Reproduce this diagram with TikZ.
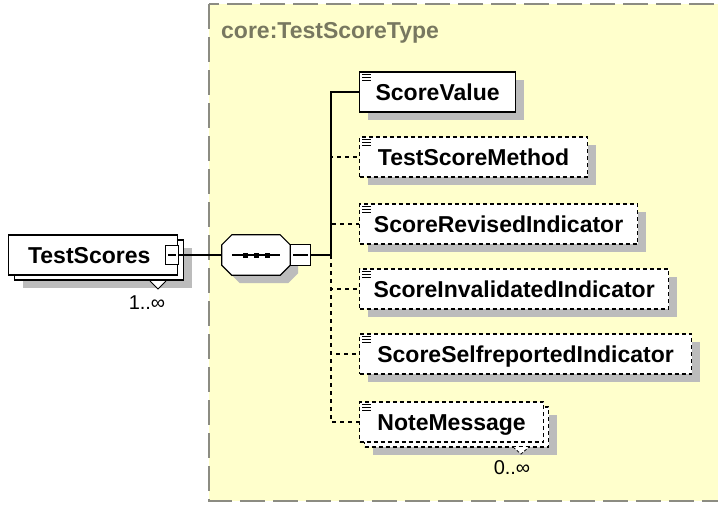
\documentclass[tikz,border=0pt]{standalone}
\usepackage{fontspec}
\setmainfont{Liberation Sans}
\usetikzlibrary{positioning, calc, shadows}
\definecolor{typefill}{RGB}{255,255,204}
\definecolor{typeline}{RGB}{140,140,130}
\definecolor{typetext}{RGB}{120,120,96}
\definecolor{shadowgray}{RGB}{188,188,188}

\tikzset{
  shade/.style={general shadow={fill=shadowgray, shadow xshift=8pt, shadow yshift=-8pt}},
  elem/.style={draw, line width=1.2pt, fill=white, anchor=west, inner sep=0pt,
    minimum height=40pt, text height=16.5pt, text depth=0pt,
    font=\bfseries\fontsize{23}{26}\selectfont},
  optelem/.style={elem, dash pattern=on 4pt off 3pt},
  minusbox/.style={draw, line width=1.1pt, fill=white, inner sep=0pt,
    path picture={\draw[line width=1.1pt] ([xshift=2.5pt]path picture bounding box.west)
      -- ([xshift=-2.5pt]path picture bounding box.east);}},
  wire/.style={line width=1.2pt},
  optwire/.style={wire, dash pattern=on 4pt off 4pt},
  mult/.style={font=\fontsize{20}{23}\selectfont, inner sep=0pt}
}
\newcommand{\listmark}[1]{%
  \foreach \k in {0,1,2}
    \draw[line width=0.9pt] ([shift={(3pt,-3pt-\k*3pt)}]#1.north west) -- ++(9,0);}

\begin{document}
\begin{tikzpicture}[x=1pt, y=-1pt]
  \useasboundingbox (0,0) rectangle (718,504);
  \clip (0,0) rectangle (718,504);

  % complex type frame
  \draw[typeline, line width=1.3pt, fill=typefill, dash pattern=on 25pt off 8pt]
    (209,4) rectangle (740,501);
  \node[font=\bfseries\fontsize{23}{26}\selectfont, text=typetext, anchor=west, inner sep=0pt]
    (typename) at (221,33) {core:TestScoreType};

  % TestScores (repeated element)
  \node[elem, shade, minimum width=169pt] (scoresback) at (14,260) {};
  \node[elem, minimum width=169pt, text width=152pt, align=left, inner xsep=0pt] (scores) at (8,255)
    {\hspace*{11pt}TestScores};
  \node[minusbox, minimum width=13pt, minimum height=19pt] (scoresminus) at (172,255) {};
  \draw[line width=0.8pt, fill=white] (150,281) -- (158,289) -- (166,281);
  \node[mult] (scoresmult) at (147,303) {1..∞};

  % sequence
  \node[inner sep=0pt, minimum width=68pt, minimum height=40pt] (seq) at (256,255) {};
  \draw[wire, fill=white, shade]
    ([xshift=10pt]seq.north west) -- ([xshift=-10pt]seq.north east)
    -- ([yshift=-10pt]seq.north east) -- ([yshift=10pt]seq.south east)
    -- ([xshift=-10pt]seq.south east) -- ([xshift=10pt]seq.south west)
    -- ([yshift=10pt]seq.south west) -- ([yshift=-10pt]seq.north west) -- cycle;
  \draw[wire] ([xshift=10pt]seq.west) -- ([xshift=-10pt]seq.east);
  \foreach \dx in {-11,0,11}
    \fill ($(seq.center)+(\dx-2.5,-2.5)$) rectangle ++(5,5);
  \node[minusbox, minimum width=20pt, minimum height=21pt, anchor=west] (seqminus) at (seq.east) {};
  \coordinate (fork) at (331,255);
  \draw[wire] (scoresminus.east) -- (seq.west);
  \draw[wire] (seqminus.east) -- (fork);

  % children
  \node[elem, shade, minimum width=156pt] (val) at (359,92) {ScoreValue};
  \foreach \n/\y/\w/\t in {method/157/228/TestScoreMethod,
      revised/224/278/ScoreRevisedIndicator,
      invalid/289/309/ScoreInvalidatedIndicator,
      selfrep/354/332/ScoreSelfreportedIndicator}
    \node[optelem, shade, minimum width=\w pt] (\n) at (359,\y) {\t};

  % NoteMessage (optional, repeated)
  \node[optelem, shade, minimum width=184pt] (noteback) at (364,427) {};
  \node[optelem, minimum width=184pt] (note) at (359,422) {NoteMessage};
  \draw[line width=0.8pt, fill=white, dash pattern=on 3pt off 2pt] (513,447) -- (521,454) -- (529,447);
  \node[mult] (notemult) at (512,468) {0..∞};

  \foreach \n in {val, method, revised, invalid, selfrep, note}
    \listmark{\n};

  % connectors
  \draw[wire] (fork) |- (val.west);
  \foreach \n in {method, revised, invalid, selfrep, note}
    \draw[optwire] (fork) |- (\n.west);
\end{tikzpicture}
\end{document}
